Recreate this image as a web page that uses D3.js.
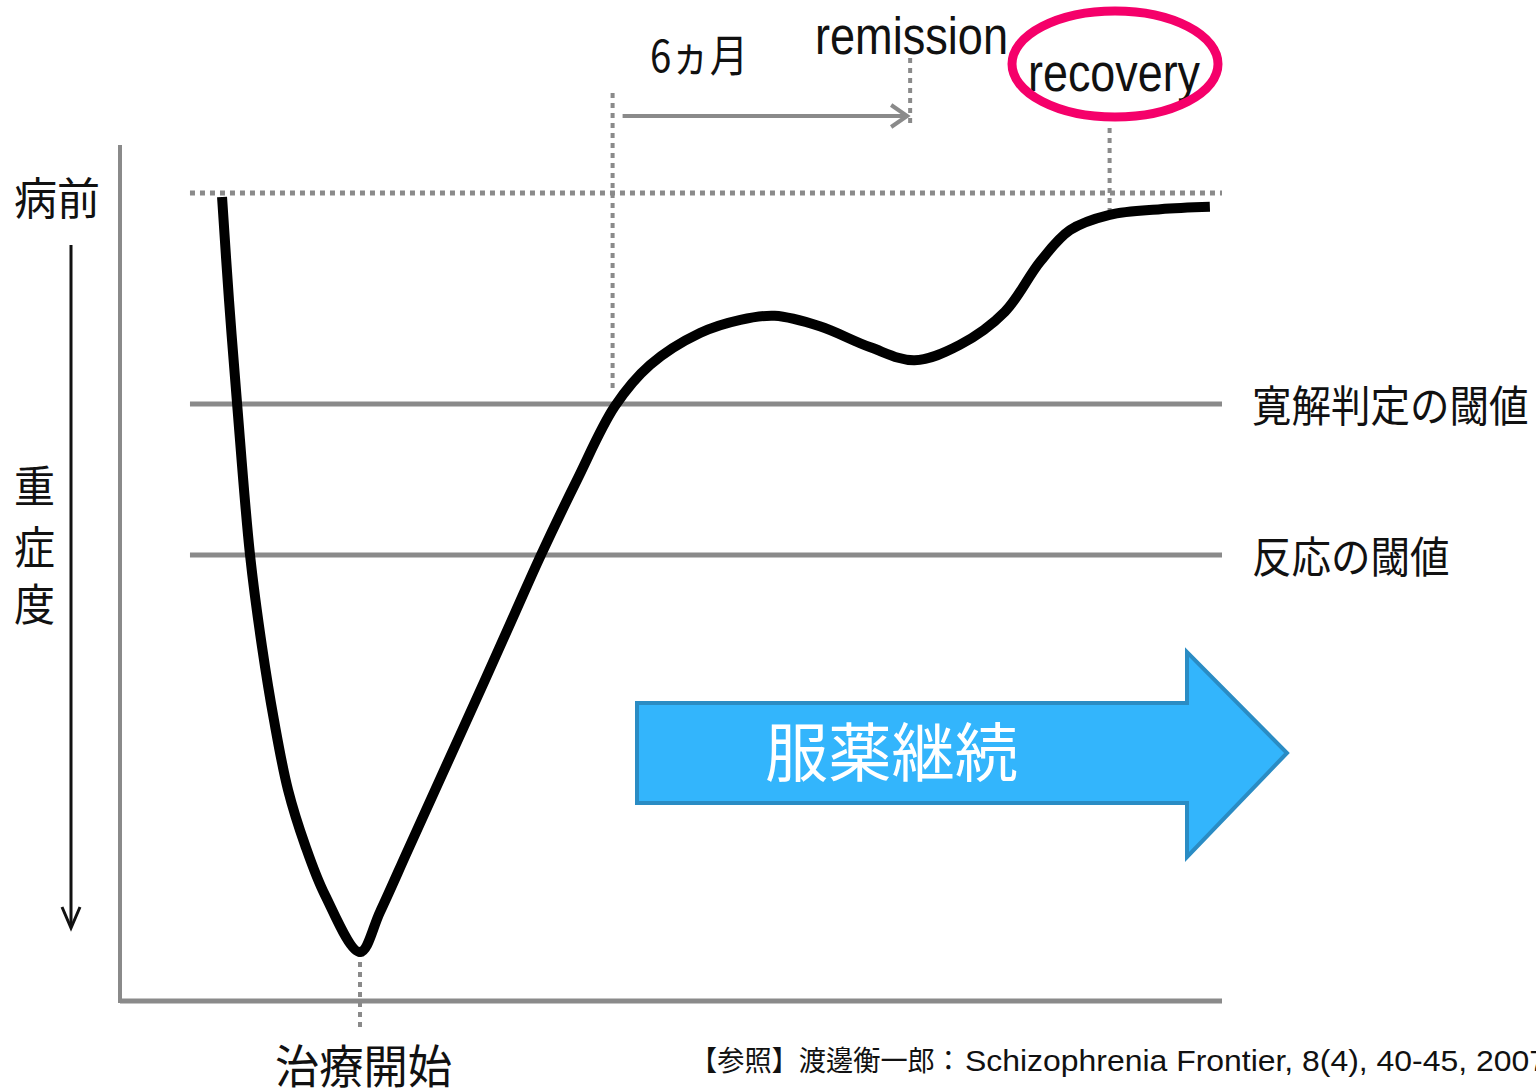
<!DOCTYPE html>
<html>
<head>
<meta charset="utf-8">
<script src="https://cdn.jsdelivr.net/npm/d3@7"></script>
<style>
  body { margin: 0; background: #fff; }
  text { font-family: "Noto Sans CJK JP", "Liberation Sans", sans-serif; }
</style>
</head>
<body>
<div id="chart"></div>
<script>
// severity course (time 0-100, severity 0 = worst, 100 = premorbid)
var courseTime = [9.26, 9.89, 10.62, 11.80, 12.89, 13.97, 15.25, 16.79, 18.60, 21.78,
                  23.59, 26.13, 29.13, 33.12, 35.84, 38.20, 41.47, 44.90, 48.09, 52.63, 56.3, 59.4,
                  63.5, 68.1, 72.1, 76.2, 80.3, 83.5, 86.2, 89.8, 94.4, 98.9];
var courseLevel = [99.5, 86.76, 74.01, 55.20, 43.81, 34.78, 26.11, 19.31, 13.12, 6.06,
                   11.01, 18.69, 27.72, 39.73, 48.02, 55.20, 64.48, 73.6, 78.71, 82.67, 84.3, 84.8,
                   83.5, 80.9, 79.3, 81.2, 85.3, 91.5, 95.4, 97.3, 98.0, 98.3];

var thresholdNames = ["寛解判定の閾値", "反応の閾値"];
var thresholdLevels = [73.9, 55.2];
var premorbidLevel = 100;

var markerNames = ["治療開始", "6ヵ月", "remission", "recovery"];
var markerTimes = [21.78, 44.7, 71.7, 89.8];

var width = 1536, height = 1088;

var svg = d3.select("#chart").append("svg")
    .attr("width", width)
    .attr("height", height);

var x = d3.scaleLinear().domain([0, 100]).range([120, 1222]);
var y = d3.scaleLinear().domain([0, 100]).range([1001, 193]);

var grey = "#8a8a8a";

// axes (plain lines, no ticks)
svg.append("line")
    .attr("x1", x(0)).attr("x2", x(0))
    .attr("y1", 145).attr("y2", y(0) + 2)
    .style("stroke", grey).style("stroke-width", 4);
svg.append("line")
    .attr("x1", x(0)).attr("x2", x(100))
    .attr("y1", y(0)).attr("y2", y(0))
    .style("stroke", grey).style("stroke-width", 5);

// premorbid dotted line
svg.append("line")
    .attr("x1", x(6.35)).attr("x2", x(100))
    .attr("y1", y(premorbidLevel)).attr("y2", y(premorbidLevel))
    .style("stroke", grey).style("stroke-width", 5)
    .style("stroke-dasharray", "5,5");

// threshold lines and their labels
thresholdLevels.forEach(function (t, i) {
    svg.append("line")
        .attr("x1", x(6.35)).attr("x2", x(100))
        .attr("y1", y(t)).attr("y2", y(t))
        .style("stroke", grey).style("stroke-width", 5);

    svg.append("text")
        .attr("x", 1252)
        .attr("y", y(t) + 6)
        .attr("dominant-baseline", "middle")
        .attr("textLength", thresholdNames[i].length * 39.5)
        .attr("lengthAdjust", "spacingAndGlyphs")
        .style("font-size", "43px")
        .style("fill", "#111")
        .text(thresholdNames[i]);
});

// vertical dotted markers
var markerSpans = [[y(6.06), 1030], [93, 390], [58, 126], [128, 212]];
markerTimes.forEach(function (t, i) {
    svg.append("line")
        .attr("x1", x(t)).attr("x2", x(t))
        .attr("y1", markerSpans[i][0]).attr("y2", markerSpans[i][1])
        .style("stroke", grey).style("stroke-width", 4)
        .style("stroke-dasharray", "5,5");
});

// 6-month arrow
svg.append("line")
    .attr("x1", x(markerTimes[1]) + 10).attr("x2", x(markerTimes[2]) - 3)
    .attr("y1", 116).attr("y2", 116)
    .style("stroke", grey).style("stroke-width", 4);
svg.append("path")
    .attr("d", "M" + (x(markerTimes[2]) - 19) + ",105 L" + (x(markerTimes[2]) - 3) + ",116 L" + (x(markerTimes[2]) - 19) + ",127")
    .style("fill", "none").style("stroke", grey).style("stroke-width", 4);

// top labels
svg.append("text")
    .attr("x", 650).attr("y", 72)
    .attr("textLength", 98).attr("lengthAdjust", "spacingAndGlyphs")
    .style("font-size", "44px").style("fill", "#111")
    .text(markerNames[1]);

svg.append("text")
    .attr("x", 815).attr("y", 54)
    .attr("textLength", 193).attr("lengthAdjust", "spacingAndGlyphs")
    .style("font-family", "'Liberation Sans', Arial, sans-serif")
    .style("font-size", "51px").style("fill", "#111")
    .text(markerNames[2]);

svg.append("text")
    .attr("x", 1028).attr("y", 91)
    .attr("textLength", 172).attr("lengthAdjust", "spacingAndGlyphs")
    .style("font-family", "'Liberation Sans', Arial, sans-serif")
    .style("font-size", "51px").style("fill", "#111")
    .text(markerNames[3]);

// highlight ellipse round "recovery"
svg.append("ellipse")
    .attr("cx", 1115).attr("cy", 64)
    .attr("rx", 103).attr("ry", 53)
    .style("fill", "none")
    .style("stroke", "#f5006a")
    .style("stroke-width", 9);

// bottom label
svg.append("text")
    .attr("x", 275).attr("y", 1083)
    .attr("textLength", 177).attr("lengthAdjust", "spacingAndGlyphs")
    .style("font-size", "46px").style("fill", "#111")
    .text(markerNames[0]);

// left side labels
svg.append("text")
    .attr("x", 14).attr("y", 215)
    .attr("textLength", 86).attr("lengthAdjust", "spacingAndGlyphs")
    .style("font-size", "44px").style("fill", "#111")
    .text("病前");

["重", "症", "度"].forEach(function (c, i) {
    svg.append("text")
        .attr("x", 14).attr("y", [503, 564, 621][i])
        .attr("textLength", 41).attr("lengthAdjust", "spacingAndGlyphs")
        .style("font-size", "44px").style("fill", "#111")
        .text(c);
});

// severity direction arrow
svg.append("line")
    .attr("x1", 71).attr("x2", 71)
    .attr("y1", 245).attr("y2", 927)
    .style("stroke", "#111").style("stroke-width", 3);
svg.append("path")
    .attr("d", "M62,907 L71,928 L80,907")
    .style("fill", "none").style("stroke", "#111").style("stroke-width", 3);

// continued medication arrow
var arrowPts = [[637, 703], [1187, 703], [1187, 652], [1287, 753], [1187, 857], [1187, 803], [637, 803]];
svg.append("path")
    .attr("d", d3.line()(arrowPts) + "Z")
    .style("fill", "#33b5fc")
    .style("stroke", "#2a8cc4")
    .style("stroke-width", 4);

svg.append("text")
    .attr("x", 765).attr("y", 776)
    .attr("textLength", 253).attr("lengthAdjust", "spacingAndGlyphs")
    .style("font-size", "64px").style("fill", "#fff")
    .text("服薬継続");

// course curve
var course = courseTime.map(function (t, i) { return [t, courseLevel[i]]; });
var line = d3.line()
    .x(function (d) { return x(d[0]); })
    .y(function (d) { return y(d[1]); })
    .curve(d3.curveCatmullRom.alpha(0.5));

svg.append("path")
    .datum(course)
    .attr("d", line)
    .style("fill", "none")
    .style("stroke", "#000")
    .style("stroke-width", 10)
    .style("stroke-linejoin", "round");

// citation
svg.append("text")
    .attr("x", 690).attr("y", 1071)
    .attr("textLength", 272).attr("lengthAdjust", "spacingAndGlyphs")
    .style("font-size", "28px").style("fill", "#111")
    .text("【参照】渡邊衡一郎：");
svg.append("text")
    .attr("x", 965).attr("y", 1071)
    .attr("textLength", 582).attr("lengthAdjust", "spacingAndGlyphs")
    .style("font-family", "'Liberation Sans', Arial, sans-serif")
    .style("font-size", "30px").style("fill", "#111")
    .text("Schizophrenia Frontier, 8(4), 40-45, 2007");
</script>
</body>
</html>
